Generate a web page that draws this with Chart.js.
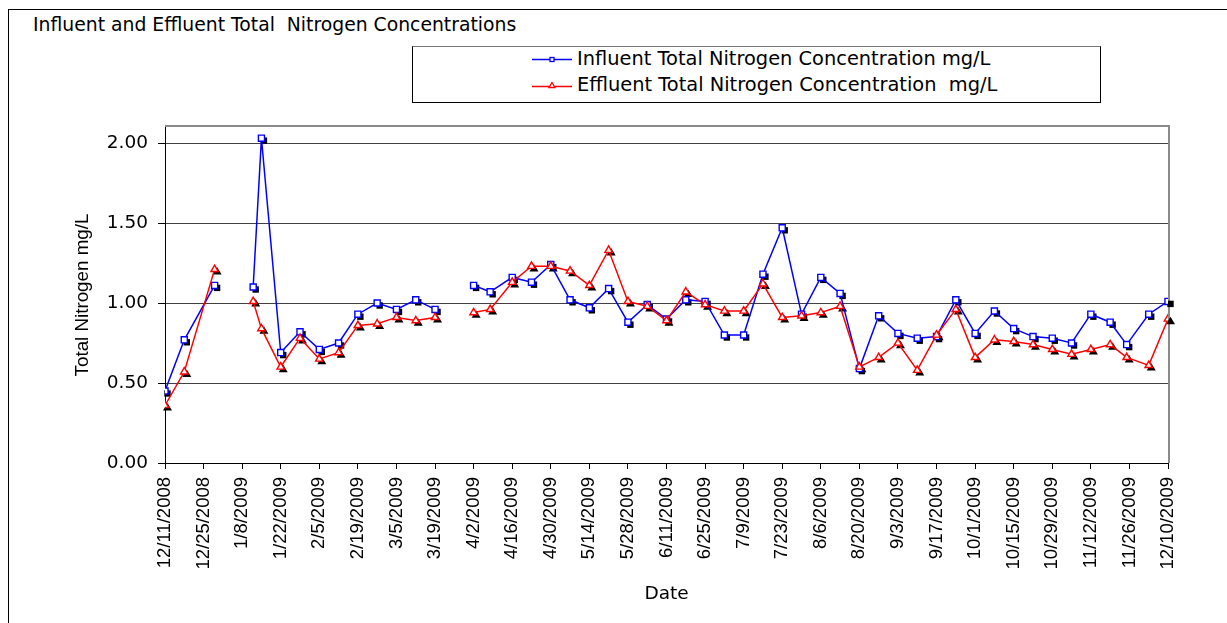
<!DOCTYPE html>
<html>
<head>
<meta charset="utf-8">
<script src="https://cdn.jsdelivr.net/npm/chart.js@4.4.1/dist/chart.umd.min.js"></script>
<style>
  html,body{margin:0;padding:0;background:#fff;}
  #wrap{position:relative;width:1227px;height:623px;overflow:hidden;font-family:"DejaVu Sans",sans-serif;font-size:18.5px;color:#000;}
  #frame{position:absolute;left:8px;top:9px;width:1300px;height:700px;border-left:1px solid #000;border-top:1px solid #000;}
  #title{position:absolute;left:33px;top:14px;line-height:22px;font-size:18.8px;white-space:pre;}
  #legend{position:absolute;left:412px;top:46px;width:687px;height:55px;border:1px solid #000;border-top-color:#777;font-size:19.4px;}
  .row{position:absolute;left:119px;height:22px;line-height:22px;white-space:pre;}
  .row svg{position:absolute;left:0;top:0;}
  .row span{position:absolute;left:45px;top:0;}
  canvas{position:absolute;left:0;top:0;}
</style>
</head>
<body>
<div id="wrap">
  <div id="frame"></div>
  <div id="title">Influent and Effluent Total  Nitrogen Concentrations</div>
  <div id="legend">
    <div class="row" style="top:1px">
      <svg width="44" height="22"><line x1="0" y1="11.5" x2="40" y2="11.5" stroke="#0000ff" stroke-width="1.5"/><rect x="18" y="9.5" width="4" height="4" fill="#fff" stroke="#0000ff" stroke-width="1.3"/></svg>
      <span>Influent Total Nitrogen Concentration mg/L</span>
    </div>
    <div class="row" style="top:27px">
      <svg width="44" height="22"><line x1="0" y1="12.5" x2="40" y2="12.5" stroke="#ff0000" stroke-width="1.5"/><path d="M20 8.5 L23 13.5 L17 13.5 Z" fill="#fff" stroke="#ff0000" stroke-width="1.3"/></svg>
      <span>Effluent Total Nitrogen Concentration  mg/L</span>
    </div>
  </div>
  <canvas id="c" width="1227" height="623"></canvas>
</div>
<script>
// sample dates (gaps in the series are the null entries)
const dates = ['12/11/2008','12/18/2008','12/29/2008','1/5/2009','1/12/2009','1/15/2009','1/22/2009','1/29/2009',
  '2/5/2009','2/12/2009','2/19/2009','2/26/2009','3/5/2009','3/12/2009','3/19/2009','3/26/2009',
  '4/2/2009','4/8/2009','4/16/2009','4/23/2009','4/30/2009','5/7/2009','5/14/2009','5/21/2009','5/28/2009',
  '6/4/2009','6/11/2009','6/18/2009','6/25/2009','7/2/2009','7/9/2009','7/16/2009','7/23/2009','7/30/2009',
  '8/6/2009','8/13/2009','8/20/2009','8/27/2009','9/3/2009','9/10/2009','9/17/2009','9/24/2009',
  '10/1/2009','10/8/2009','10/15/2009','10/22/2009','10/29/2009','11/5/2009','11/12/2009','11/19/2009',
  '11/25/2009','12/3/2009','12/10/2009'];

const influent = [0.45,0.77,1.11,null,1.10,2.03,0.69,0.82,
  0.71,0.75,0.93,1.00,0.96,1.02,0.96,null,
  1.11,1.07,1.16,1.13,1.24,1.02,0.97,1.09,0.88,
  0.99,0.90,1.02,1.01,0.80,0.80,1.18,1.47,0.93,
  1.16,1.06,0.59,0.92,0.81,0.78,0.79,1.02,
  0.81,0.95,0.84,0.79,0.78,0.75,0.93,0.88,
  0.74,0.93,1.01];

const effluent = [0.36,0.57,1.21,null,1.01,0.84,0.60,0.78,
  0.65,0.69,0.86,0.87,0.91,0.89,0.91,null,
  0.94,0.96,1.13,1.23,1.23,1.20,1.11,1.33,1.01,
  0.98,0.89,1.07,0.99,0.95,0.95,1.12,0.91,0.92,
  0.94,0.98,0.60,0.66,0.75,0.58,0.80,0.96,
  0.66,0.77,0.76,0.74,0.71,0.68,0.71,0.74,
  0.66,0.61,0.90];

const startDate = '12/11/2008';   // first tick
const endDate = '12/10/2009';     // last tick
const tickDays = 14;
const yTicks = [0, 0.5, 1.0, 1.5, 2.0];
const yMax = 2.1;

function toUTC(s){
  const p = s.split('/').map(Number);
  return Date.UTC(p[2], p[0]-1, p[1]);
}
const DAY = 86400000;
const t0 = toUTC(startDate);
function dayOf(s){ return Math.round((toUTC(s) - t0) / DAY); }
function fmt(v){
  const d = new Date(t0 + v*DAY);
  return (d.getUTCMonth()+1) + '/' + d.getUTCDate() + '/' + d.getUTCFullYear();
}
function pts(vals){ return dates.map((d,i) => ({x: dayOf(d), y: vals[i]})); }

// hollow markers in the original carry a black drop shadow, plus grey top/right plot border
const plotDeco = {
  id: 'plotDeco',
  beforeDatasetsDraw(chart){
    const ctx = chart.ctx, a = chart.chartArea;
    ctx.save();
    ctx.strokeStyle = '#8a8a8a';
    ctx.lineWidth = 2;
    ctx.beginPath();
    ctx.moveTo(a.left, a.top - 1);
    ctx.lineTo(a.right + 1, a.top - 1);
    ctx.lineTo(a.right + 1, a.bottom);
    ctx.stroke();
    ctx.fillStyle = '#000';
    chart.data.datasets.forEach((ds, i) => {
      chart.getDatasetMeta(i).data.forEach(p => {
        if (p.skip) return;
        const x = p.x + 2.5, y = p.y + 2.5;
        ctx.beginPath();
        if (ds.pointStyle === 'rect') ctx.rect(x - 3.2, y - 3.2, 6.4, 6.4);
        else { ctx.moveTo(x, y - 4.8); ctx.lineTo(x + 4.5, y + 2.7); ctx.lineTo(x - 4.5, y + 2.7); ctx.closePath(); }
        ctx.fill();
      });
    });
    ctx.restore();
  }
};

new Chart(document.getElementById('c').getContext('2d'), {
  type: 'line',
  data: {
    datasets: [
      { label: 'Influent Total Nitrogen Concentration mg/L', data: pts(influent), order: 1,
        borderColor: '#0000ff', borderWidth: 1.5, pointStyle: 'rect', pointRadius: 4.3,
        pointBackgroundColor: '#fff', pointBorderColor: '#0000ff', pointBorderWidth: 1.4, tension: 0, spanGaps: false },
      { label: 'Effluent Total Nitrogen Concentration  mg/L', data: pts(effluent), order: 0,
        borderColor: '#ff0000', borderWidth: 1.5, pointStyle: 'triangle', pointRadius: 4.3,
        pointBackgroundColor: '#fff', pointBorderColor: '#ff0000', pointBorderWidth: 1.4, tension: 0, spanGaps: false }
    ]
  },
  options: {
    responsive: false,
    animation: false,
    devicePixelRatio: 1,
    layout: { padding: { left: 0, right: 59, top: 127, bottom: 0 } },
    plugins: { legend: { display: false }, tooltip: { enabled: false } },
    scales: {
      x: {
        type: 'linear', min: 0, max: dayOf(endDate),
        afterFit(s){ s.height = 160; },
        ticks: { stepSize: tickDays, autoSkip: false, minRotation: 90, maxRotation: 90, padding: 8,
          color: '#000', font: { family: 'Liberation Sans', size: 18.5 }, callback: v => fmt(v) },
        grid: { drawOnChartArea: false, tickColor: '#000', tickLength: 6 },
        border: { color: '#000', width: 1 },
        title: { display: true, text: 'Date', color: '#000',
          font: { family: 'DejaVu Sans', size: 18.5 }, padding: { top: 0, bottom: 18 } }
      },
      y: {
        min: 0, max: yMax,
        afterFit(s){ s.width = 165; },
        afterBuildTicks(s){ s.ticks = yTicks.map(v => ({ value: v })); },
        ticks: { stepSize: 0.5, padding: 10, color: '#000',
          font: { family: 'DejaVu Sans', size: 18.5 }, callback: v => Number(v).toFixed(2) },
        grid: { color: '#404040', tickColor: '#000', tickLength: 7, lineWidth: 1 },
        border: { color: '#000', width: 1 },
        title: { display: true, text: 'Total Nitrogen mg/L', color: '#000',
          font: { family: 'Liberation Sans', size: 18.8 }, padding: { top: 72, bottom: 0 } }
      }
    }
  },
  plugins: [plotDeco]
});
</script>
</body>
</html>
